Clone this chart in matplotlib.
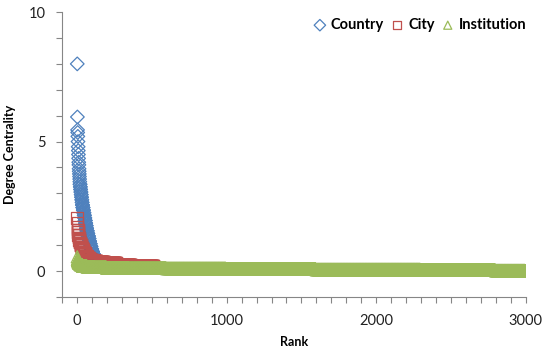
import numpy as np
import matplotlib
matplotlib.use('Agg')
from matplotlib import pyplot as plt
from matplotlib.ticker import MultipleLocator

# degree centrality levels and how many ranks sit at each level
country_vals = [8.0, 5.95, 5.45, 5.35, 5.2, 5.0, 4.8, 4.65, 4.5, 4.35, 4.2, 4.1, 3.95, 3.85,
                3.75, 3.65, 3.55, 3.45, 3.35, 3.25, 3.15, 3.05, 2.95, 2.85, 2.75, 2.65,
                2.55, 2.45, 2.35, 2.25, 2.15, 2.05, 1.95, 1.85, 1.75, 1.65, 1.55, 1.45,
                1.35, 1.25, 1.15, 1.05, 0.95, 0.85, 0.75, 0.65, 0.55, 0.45, 0.35, 0.25,
                0.2]
country_counts = [1, 1, 1, 1, 1, 1, 1, 1, 1, 1, 1, 1, 1, 1, 1, 1, 1, 1, 2, 2, 2, 2, 2, 2, 2, 2,
                  3, 3, 3, 3, 3, 3, 3, 3, 3, 3, 4, 4, 4, 4, 4, 4, 5, 5, 6, 6, 8, 8, 10, 10,
                  10]

city_vals = [2.05, 1.85, 1.7, 1.6, 1.5, 1.4, 1.3, 1.2, 1.1, 1.0, 0.9, 0.8, 0.7, 0.6, 0.5,
             0.45, 0.4, 0.35, 0.3, 0.25, 0.2]
city_counts = [1, 1, 1, 2, 2, 3, 3, 4, 5, 6, 7, 8, 10, 12, 15, 20, 30, 50, 80, 100, 150]

inst_vals = [0.55, 0.45, 0.4, 0.35, 0.3, 0.25, 0.2, 0.17, 0.15, 0.13, 0.11, 0.1, 0.08,
             0.06, 0.04, 0.02, 0.0]
inst_counts = [1, 2, 3, 5, 8, 15, 30, 50, 80, 150, 250, 400, 600, 700, 500, 200, 6]

series = [('Country', country_vals, country_counts, 'D', '#4F81BD', 48),
          ('City', city_vals, city_counts, 's', '#C0504D', 70),
          ('Institution', inst_vals, inst_counts, '^', '#9BBB59', 75)]

plt.rcParams['font.family'] = ['Lato', 'DejaVu Sans']

fig = plt.figure(figsize=(5.5, 3.56), dpi=100)
ax = fig.add_axes([0.113, 0.166, 0.843, 0.80])

for name, vals, counts, mk, col, sz in series:
    y = np.repeat(vals, counts)
    x = np.arange(1, len(y) + 1)
    ax.scatter(x, y, marker=mk, s=sz, facecolors='none', edgecolors=col,
               linewidths=0.9, label=name)

ax.set_xlim(-100, 3000)
ax.set_ylim(-1, 10)
ax.xaxis.set_major_locator(MultipleLocator(1000))
ax.xaxis.set_minor_locator(MultipleLocator(100))
ax.yaxis.set_major_locator(MultipleLocator(5))
ax.yaxis.set_minor_locator(MultipleLocator(1))

for s in ['top', 'right']:
    ax.spines[s].set_visible(False)
for s in ['left', 'bottom']:
    ax.spines[s].set_color('#868686')
ax.tick_params(which='both', direction='out', color='#868686', width=0.8)
ax.tick_params(which='major', length=4, labelsize=10.5, labelcolor='#222222', pad=8)
ax.tick_params(which='minor', length=4)

ax.set_xlabel('Rank', fontsize=9, fontweight='bold', labelpad=6)
ax.set_ylabel('Degree Centrality', fontsize=9, fontweight='bold', labelpad=9)

leg = ax.legend(loc='upper right', bbox_to_anchor=(1.02, 1.01), ncol=3, frameon=False,
                handlelength=0.8, handletextpad=0.35, columnspacing=0.5,
                borderaxespad=0.2, prop={'weight': 'bold', 'size': 10.5},
                scatterpoints=1)
for h in leg.legend_handles:
    h.set_sizes([34])

fig.savefig('out.png', dpi=100)
